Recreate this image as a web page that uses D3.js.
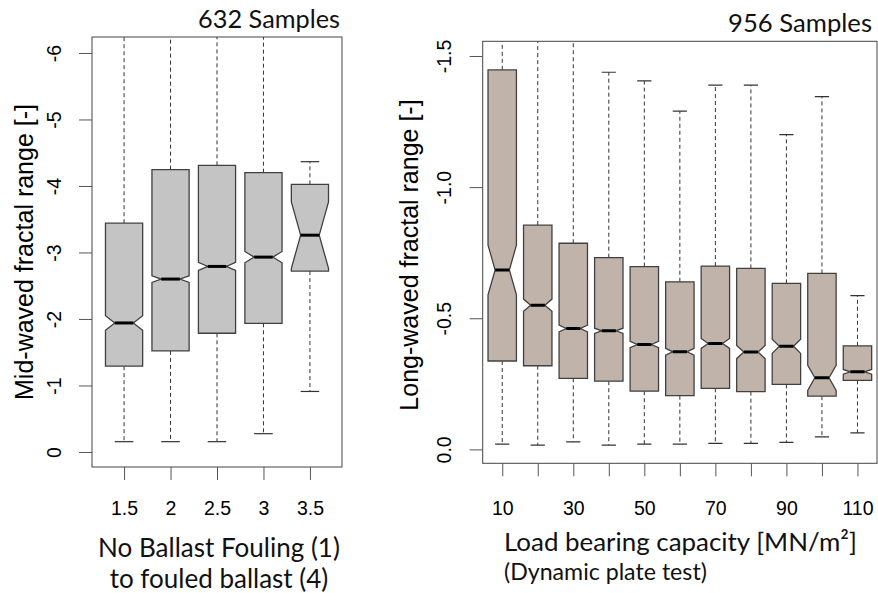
<!DOCTYPE html>
<html><head><meta charset="utf-8">
<script src="https://cdn.jsdelivr.net/npm/d3@7"></script>
<style>body{margin:0;background:#fff}</style>
</head><body>
<svg id="c" width="878" height="593" style="background:#fff"></svg>
<script>
// ---------- Left panel data (Mid-waved fractal range) ----------
const catsL      = ["1.5", "2", "2.5", "3", "3.5"];
const whiskLoL   = [-0.155, -0.155, -0.155, -0.275, -0.91];
const q1L        = [-1.29, -1.52, -1.785, -1.935, -2.72];
const notchLoL   = [-1.83, -2.55, -2.73, -2.845, -2.76];
const medianL    = [-1.94, -2.60, -2.79, -2.93, -3.26];
const notchHiL   = [-2.05, -2.65, -2.85, -3.015, -3.76];
const q3L        = [-3.44, -4.245, -4.31, -4.20, -4.025];
const whiskHiL   = [-6.5, -6.5, -6.5, -6.5, -4.365];
const yTicksL    = [0, -1, -2, -3, -4, -5, -6];
const xLabelsL   = ["1.5", "2", "2.5", "3", "3.5"];

// ---------- Right panel data (Long-waved fractal range) ----------
const catsR      = ["10", "20", "30", "40", "50", "60", "70", "80", "90", "100", "110"];
const whiskLoR   = [-0.020, -0.016, -0.029, -0.016, -0.020, -0.020, -0.023, -0.023, -0.027, -0.048, -0.063];
const q1R        = [-0.337, -0.319, -0.271, -0.260, -0.222, -0.205, -0.233, -0.220, -0.248, -0.203, -0.263];
const notchLoR   = [-0.589, -0.527, -0.448, -0.442, -0.388, -0.359, -0.385, -0.346, -0.366, -0.225, -0.287];
const medianR    = [-0.684, -0.550, -0.461, -0.452, -0.400, -0.372, -0.404, -0.371, -0.393, -0.273, -0.296];
const notchHiR   = [-0.779, -0.573, -0.474, -0.462, -0.412, -0.385, -0.423, -0.396, -0.420, -0.321, -0.305];
const q3R        = [-1.447, -0.855, -0.786, -0.731, -0.697, -0.639, -0.699, -0.690, -0.633, -0.671, -0.395];
const whiskHiR   = [-1.65, -1.65, -1.65, -1.438, -1.405, -1.290, -1.389, -1.389, -1.200, -1.345, -0.586];
const yTicksR    = [0, -0.5, -1.0, -1.5];
const xLabelsR   = ["10", "30", "50", "70", "90", "110"];

const svg = d3.select("#c");
const RFONT = "'Liberation Sans', Arial, sans-serif";
const TFONT = "Lato, 'Open Sans', sans-serif";

function panel(o) {
  const g = svg.append("g");
  const x = d3.scalePoint().domain(o.cats).range([o.left, o.right]).padding(o.pad);
  const y = d3.scaleLinear().domain(o.yDomain).range([o.top, o.bottom]);
  const w = x.step() * 0.8;
  const clipId = "clip" + o.id;
  svg.append("clipPath").attr("id", clipId).append("rect")
    .attr("x", o.left).attr("y", o.top).attr("width", o.right - o.left).attr("height", o.bottom - o.top);

  const rows = o.cats.map((c, i) => ({
    c, lo: o.wLo[i], q1: o.q1[i], nLo: o.nLo[i], med: o.med[i], nHi: o.nHi[i], q3: o.q3[i], hi: o.wHi[i]
  }));

  const plot = g.append("g").attr("clip-path", `url(#${clipId})`);
  const b = plot.selectAll("g.box").data(rows).join("g").attr("class", "box");

  b.append("line").attr("x1", d => x(d.c)).attr("x2", d => x(d.c))
    .attr("y1", d => y(d.q3)).attr("y2", d => y(d.hi))
    .attr("stroke", "#333").attr("stroke-width", 1).attr("stroke-dasharray", "4,3");
  b.append("line").attr("x1", d => x(d.c)).attr("x2", d => x(d.c))
    .attr("y1", d => y(d.q1)).attr("y2", d => y(d.lo))
    .attr("stroke", "#333").attr("stroke-width", 1).attr("stroke-dasharray", "4,3");
  b.append("line").attr("x1", d => x(d.c) - w / 4).attr("x2", d => x(d.c) + w / 4)
    .attr("y1", d => y(d.hi)).attr("y2", d => y(d.hi)).attr("stroke", "#333").attr("stroke-width", 1.2);
  b.append("line").attr("x1", d => x(d.c) - w / 4).attr("x2", d => x(d.c) + w / 4)
    .attr("y1", d => y(d.lo)).attr("y2", d => y(d.lo)).attr("stroke", "#333").attr("stroke-width", 1.2);

  b.append("path").attr("d", d => {
    const cx = x(d.c), L = cx - w / 2, R = cx + w / 2, l = cx - w / 4, r = cx + w / 4;
    return d3.line()([
      [L, y(d.q3)], [L, y(d.nHi)], [l, y(d.med)], [L, y(d.nLo)], [L, y(d.q1)],
      [R, y(d.q1)], [R, y(d.nLo)], [r, y(d.med)], [R, y(d.nHi)], [R, y(d.q3)]
    ]) + "Z";
  }).attr("fill", o.fill).attr("stroke", "#404040").attr("stroke-width", 1.3).attr("stroke-linejoin", "miter");

  b.append("line").attr("x1", d => x(d.c) - w / 4).attr("x2", d => x(d.c) + w / 4)
    .attr("y1", d => y(d.med)).attr("y2", d => y(d.med)).attr("stroke", "#000").attr("stroke-width", 3);

  g.append("rect").attr("x", o.left).attr("y", o.top).attr("width", o.right - o.left).attr("height", o.bottom - o.top)
    .attr("fill", "none").attr("stroke", "#444").attr("stroke-width", 1);

  const ya = g.append("g").attr("transform", `translate(${o.left},0)`)
    .call(d3.axisLeft(y).tickValues(o.yTicks).tickSize(13).tickFormat(o.yFmt));
  ya.select(".domain").remove();
  ya.selectAll(".tick line").attr("stroke", "#555");
  ya.selectAll(".tick text").attr("x", null).attr("dy", null).attr("y", null)
    .attr("transform", `translate(${-o.yLabOff},0) rotate(-90)`)
    .attr("text-anchor", "middle").attr("font-family", RFONT).attr("font-size", 19.5).attr("fill", "#000");

  const xa = g.append("g").attr("transform", `translate(0,${o.bottom})`)
    .call(d3.axisBottom(x).tickSize(13).tickFormat(d => o.xLabels.includes(d) ? d : ""));
  xa.select(".domain").remove();
  xa.selectAll(".tick line").attr("stroke", "#555");
  xa.selectAll(".tick text").attr("dy", null).attr("y", 515 - o.bottom)
    .attr("font-family", RFONT).attr("font-size", 19.5).attr("fill", "#000");

  g.append("text").attr("transform", `translate(${o.yTitleX},${o.yTitleY}) rotate(-90)`)
    .attr("text-anchor", "middle").attr("font-family", RFONT).attr("font-size", 25).attr("fill", "#000")
    .text(o.yTitle);
}

function fitText(sel, target) {
  const base = 24;
  sel.attr("font-size", base);
  const len = sel.node().getComputedTextLength();
  const fs = base * target / len;
  sel.attr("font-size", fs);
  return fs;
}

panel({
  id: "L", cats: catsL, left: 92, right: 342, top: 37, bottom: 467, pad: 0.69,
  yDomain: [-6.24, 0.226], fill: "#c4c4c4",
  wLo: whiskLoL, q1: q1L, nLo: notchLoL, med: medianL, nHi: notchHiL, q3: q3L, wHi: whiskHiL,
  yTicks: yTicksL, yFmt: d => String(d), xLabels: xLabelsL, yLabOff: 31,
  yTitle: "Mid-waved fractal range [-]", yTitleX: 33, yTitleY: 252
});
panel({
  id: "R", cats: catsR, left: 482.7, right: 877, top: 41.3, bottom: 463.3, pad: 0.55,
  yDomain: [-1.556, 0.053], fill: "#c0b4aa",
  wLo: whiskLoR, q1: q1R, nLo: notchLoR, med: medianR, nHi: notchHiR, q3: q3R, wHi: whiskHiR,
  yTicks: yTicksR, yFmt: d => d.toFixed(1), xLabels: xLabelsR, yLabOff: 32,
  yTitle: "Long-waved fractal range [-]", yTitleX: 418, yTitleY: 255
});

const t1 = svg.append("text").attr("x", 340).attr("y", 28).attr("text-anchor", "end")
  .attr("font-family", TFONT).attr("fill", "#111").text("632 Samples");
fitText(t1, 142);
const t2 = svg.append("text").attr("x", 872).attr("y", 32).attr("text-anchor", "end")
  .attr("font-family", TFONT).attr("fill", "#111").text("956 Samples");
fitText(t2, 144);

const a1 = svg.append("text").attr("x", 219).attr("y", 557).attr("text-anchor", "middle")
  .attr("font-family", TFONT).attr("fill", "#111").text("No Ballast Fouling (1)");
const fsA = fitText(a1, 242);
svg.append("text").attr("x", 219).attr("y", 588).attr("text-anchor", "middle")
  .attr("font-family", TFONT).attr("fill", "#111").attr("font-size", fsA).text("to fouled ballast (4)");

const b1 = svg.append("text").attr("x", 504).attr("y", 551)
  .attr("font-family", TFONT).attr("fill", "#111").text("Load bearing capacity [MN/m²]");
fitText(b1, 353);
const b2 = svg.append("text").attr("x", 504).attr("y", 580)
  .attr("font-family", TFONT).attr("fill", "#111").text("(Dynamic plate test)");
fitText(b2, 203);
</script>
</body></html>
